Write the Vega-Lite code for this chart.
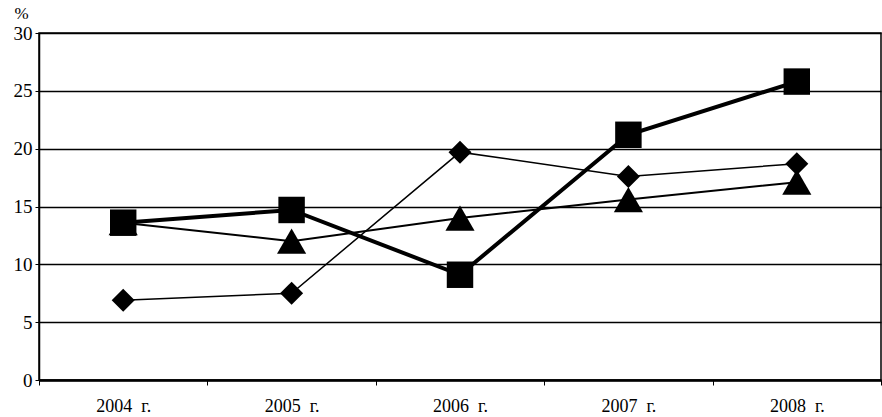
{
  "$schema": "https://vega.github.io/schema/vega-lite/v6.json",
  "width": 842,
  "height": 347,
  "autosize": "none",
  "padding": {"left": 39, "top": 33, "right": 1, "bottom": 37},
  "background": "white",
  "config": {
    "view": {"stroke": "black", "strokeWidth": 1.5},
    "font": "Liberation Serif"
  },
  "data": {
    "values": [
      {"year": "2004 г.", "series": "C", "value": 13.6},
      {"year": "2005 г.", "series": "C", "value": 12.0},
      {"year": "2006 г.", "series": "C", "value": 14.0},
      {"year": "2007 г.", "series": "C", "value": 15.6},
      {"year": "2008 г.", "series": "C", "value": 17.1},
      {"year": "2004 г.", "series": "B", "value": 6.9},
      {"year": "2005 г.", "series": "B", "value": 7.5},
      {"year": "2006 г.", "series": "B", "value": 19.7},
      {"year": "2007 г.", "series": "B", "value": 17.6},
      {"year": "2008 г.", "series": "B", "value": 18.7},
      {"year": "2004 г.", "series": "A", "value": 13.6},
      {"year": "2005 г.", "series": "A", "value": 14.7},
      {"year": "2006 г.", "series": "A", "value": 9.1},
      {"year": "2007 г.", "series": "A", "value": 21.2},
      {"year": "2008 г.", "series": "A", "value": 25.8}
    ]
  },
  "encoding": {
    "x": {
      "field": "year",
      "type": "ordinal",
      "sort": null,
      "scale": {"type": "band", "paddingInner": 0, "paddingOuter": 0},
      "axis": {
        "title": null,
        "labelAngle": 0,
        "labelFont": "Liberation Serif",
        "labelFontSize": 18,
        "labelColor": "black",
        "labelPadding": 12,
        "labelExpr": "replace(datum.label, ' ', '\u00a0\u00a0')",
        "tickBand": "extent",
        "tickSize": 5,
        "tickColor": "black",
        "domainColor": "black",
        "domainWidth": 2.5,
        "grid": false
      }
    },
    "y": {
      "field": "value",
      "type": "quantitative",
      "scale": {"domain": [0, 30], "nice": false},
      "axis": {
        "values": [0, 5, 10, 15, 20, 25, 30],
        "title": "%",
        "titleAngle": 0,
        "titleX": -25,
        "titleY": -20,
        "titleAlign": "left",
        "titleBaseline": "middle",
        "titleFont": "Liberation Serif",
        "titleFontSize": 17,
        "titleFontWeight": "normal",
        "titleColor": "black",
        "labelFont": "Liberation Serif",
        "labelFontSize": 19,
        "labelColor": "black",
        "labelPadding": 3,
        "tickSize": 4,
        "tickColor": "black",
        "domainColor": "black",
        "domainWidth": 1.5,
        "grid": true,
        "gridColor": "black",
        "gridWidth": 1.3
      }
    }
  },
  "layer": [
    {
      "mark": {"type": "line", "color": "black"},
      "encoding": {
        "detail": {"field": "series"},
        "strokeWidth": {
          "field": "series",
          "type": "nominal",
          "scale": {"type": "ordinal", "domain": ["A", "B", "C"], "range": [4, 1.5, 2]},
          "legend": null
        }
      }
    },
    {
      "mark": {"type": "point", "filled": true, "color": "black", "opacity": 1},
      "encoding": {
        "shape": {
          "field": "series",
          "type": "nominal",
          "scale": {"domain": ["A", "B", "C"], "range": ["square", "diamond", "triangle-up"]},
          "legend": null
        },
        "size": {
          "field": "series",
          "type": "nominal",
          "scale": {"type": "ordinal", "domain": ["A", "B", "C"], "range": [700, 530, 850]},
          "legend": null
        }
      }
    }
  ]
}
